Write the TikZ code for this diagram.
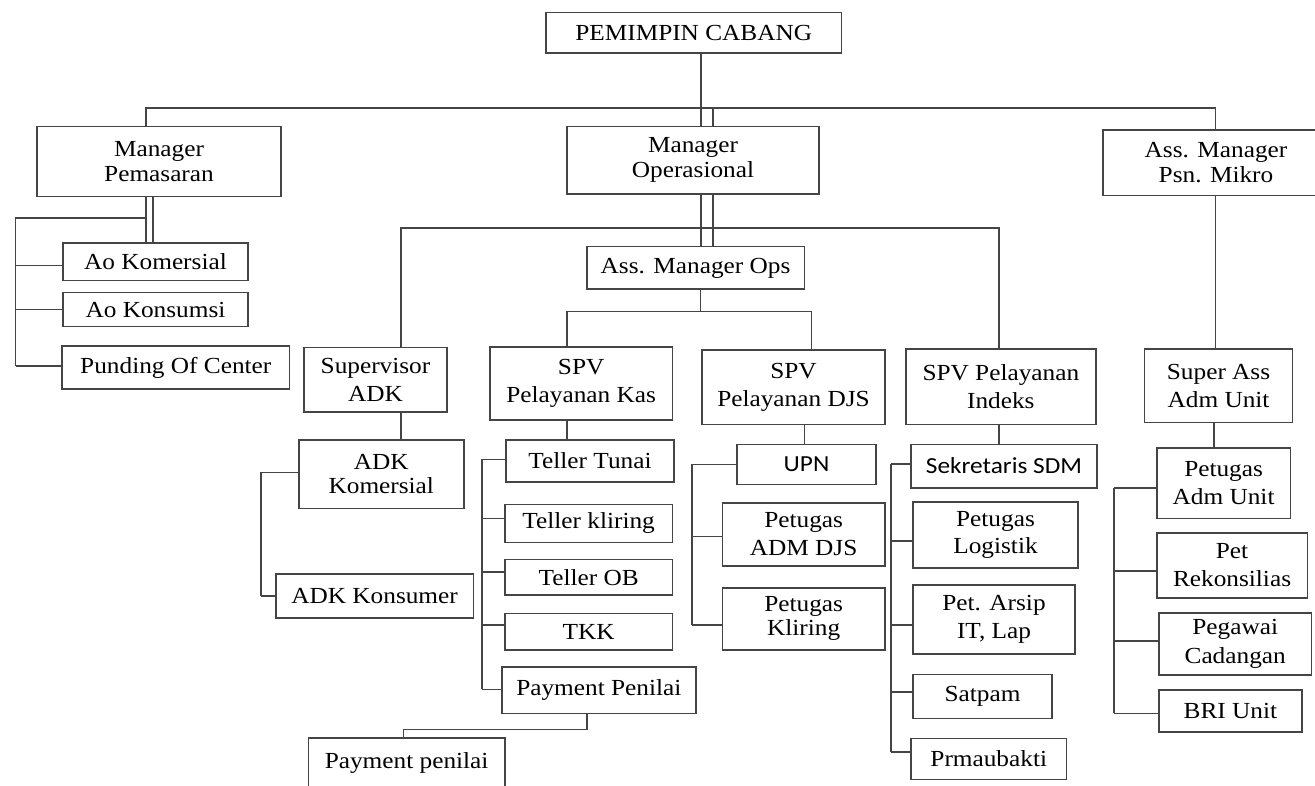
\documentclass[tikz,border=0pt]{standalone}
\usepackage{fontspec}
\setmainfont[FakeStretch=1.1]{Liberation Serif}
\newfontfamily\sansf[FakeStretch=1.1]{Carlito}
\definecolor{lc}{gray}{0.27}
\newcommand\mkbox[7][]{\node[box,#1,minimum width={#4-#3},minimum height={#6-#5}] (#2) at ({(#3+#4)/2},{(#5+#6)/2}) {#7};}
\newcommand\branch[3]{\path ([yshift=#3pt]#1.west) coordinate (#1w); \draw[ln] (#1w) -- (#1w -| #2);}
\begin{document}
\begin{tikzpicture}[x=1pt,y=-1pt,
  box/.style={draw=lc, line width=1.6pt, inner sep=0pt, outer sep=0pt, align=center, font=\fontsize{23}{28.3}\selectfont},
  top/.style={font=\fontsize{23}{25}\selectfont},
  tight/.style={font=\fontsize{23}{24}\selectfont},
  sans/.style={font=\sansf\fontsize{23}{28.3}\selectfont},
  ln/.style={draw=lc, line width=1.6pt}]
\useasboundingbox (0,0) rectangle (1315,786);
\clip (0,0) rectangle (1315,786);
% boxes
\mkbox[top]{pc}{546}{841.5}{12.7}{53.3}{PEMIMPIN CABANG}
\mkbox[top]{mp}{37}{281}{126.7}{196.7}{Manager\\Pemasaran}
\mkbox[top]{mo}{567}{819}{126.7}{194}{Manager\\Operasional}
\mkbox[top]{ampm}{1103}{1329}{130}{195.7}{Ass. Manager\\Psn. Mikro}
\mkbox{ako}{63}{248}{243}{280.7}{Ao Komersial}
\mkbox{akn}{63}{248}{292.7}{326.7}{Ao Konsumsi}
\mkbox{poc}{62}{289.6}{346}{389}{Punding Of Center}
\mkbox{amops}{586.7}{804.4}{246.7}{289.3}{Ass. Manager Ops}
\mkbox{sadk}{304}{447}{347.7}{411.7}{Supervisor\\ADK}
\mkbox{skas}{490}{672.3}{347.3}{420}{SPV\\Pelayanan Kas}
\mkbox{sdjs}{702}{885}{350}{424.3}{SPV\\Pelayanan DJS}
\mkbox{sind}{906}{1095.7}{349}{424.3}{SPV Pelayanan\\Indeks}
\mkbox{saau}{1144.5}{1292.6}{349}{422.3}{Super Ass\\Adm Unit}
\mkbox[tight]{adkk}{298.8}{463.8}{440}{508.3}{ADK\\Komersial}
\mkbox{adkn}{275.7}{473.5}{574}{617.7}{ADK Konsumer}
\mkbox{tt}{506}{674}{440}{481.7}{Teller Tunai}
\mkbox{tk}{505}{672.3}{504.3}{542.3}{Teller kliring}
\mkbox{tob}{505}{672.3}{559.3}{595}{Teller OB}
\mkbox{tkk}{505}{672.3}{613.3}{650}{TKK}
\mkbox{ppa}{501.7}{696}{666.7}{713.3}{Payment Penilai}
\mkbox{ppb}{308.3}{505}{737.7}{787.7}{Payment penilai}
\mkbox[sans]{upn}{737}{876}{444.3}{484.3}{UPN}
\mkbox{padm}{722.3}{885}{502.7}{566}{Petugas\\ADM DJS}
\mkbox[tight]{pkl}{722.3}{885}{587.7}{650}{Petugas\\Kliring}
\mkbox[sans]{ssdm}{910.9}{1097}{444.3}{487.7}{Sekretaris SDM}
\mkbox[font=\fontsize{23}{26.7}\selectfont]{plog}{913}{1078}{501.7}{567.7}{Petugas\\Logistik}
\mkbox{parsip}{913}{1075}{585}{654}{Pet. Arsip\\IT, Lap}
\mkbox{satpam}{913}{1052}{674.3}{718.3}{Satpam}
\mkbox{prm}{910.9}{1066.6}{738.3}{779.3}{Prmaubakti}
\mkbox{pau}{1156.7}{1290.5}{447.7}{518.3}{Petugas\\Adm Unit}
\mkbox{prek}{1156.7}{1307.4}{532.7}{597.7}{Pet\\Rekonsilias}
\mkbox{pcad}{1158.8}{1311.6}{612.7}{675}{Pegawai\\Cadangan}
\mkbox{bri}{1158.8}{1302}{690}{731.7}{BRI Unit}
% coordinates
\coordinate (t1) at (146,108.3);
\coordinate (t2) at (713,108.3);
\coordinate (t3) at (1215.6,108.3);
\coordinate (v1) at (701,0);
\coordinate (m1) at (146,218.3);
\coordinate (m2) at (153,0);
\coordinate (m3) at (15.6,218.3);
\coordinate (h1) at (400.7,228.3);
\coordinate (h2) at (999,228.3);
\coordinate (a1) at (700.5,311.7);
\coordinate (a2) at (567,311.7);
\coordinate (a3) at (811.6,311.7);
\coordinate (k1) at (261,0);
\coordinate (b1) at (481.7,0);
\coordinate (p1) at (586.7,729.3);
\coordinate (p2) at (403.3,729.3);
\coordinate (d1) at (804.4,0);
\coordinate (b2) at (692,0);
\coordinate (b3) at (890.7,0);
\coordinate (u1) at (1214,0);
\coordinate (b4) at (1113.8,0);
% top level
\draw[ln] (pc.south -| v1) -- (mo.north -| v1);
\draw[ln] (mp.north -| t1) -- (t1) -- (t3) -- (ampm.north -| t3);
\draw[ln] (t2) -- (mo.north -| t2);
% pemasaran
\draw[ln] (mp.south -| m1) -- (ako.north -| m1);
\draw[ln] (mp.south -| m2) -- (ako.north -| m2);
\branch{ako}{m3}{-3.85}
\branch{akn}{m3}{0}
\branch{poc}{m3}{1.5}
\draw[ln] (m1) -- (m3) -- (pocw -| m3);
% operasional
\draw[ln] (mo.south -| v1) -- (amops.north -| v1);
\draw[ln] (mo.south -| t2) -- (amops.north -| t2);
\draw[ln] (sadk.north -| h1) -- (h1) -- (h2) -- (sind.north -| h2);
\draw[ln] (amops.south -| a1) -- (a1);
\draw[ln] (skas.north -| a2) -- (a2) -- (a3) -- (sdjs.north -| a3);
% ADK
\draw[ln] (sadk.south -| h1) -- (adkk.north -| h1);
\branch{adkk}{k1}{1.85}
\branch{adkn}{k1}{0}
\draw[ln] (adkkw -| k1) -- (adknw -| k1);
% kas
\draw[ln] (skas.south -| a2) -- (tt.north -| a2);
\branch{tt}{b1}{1.5}
\branch{tk}{b1}{5}
\branch{tob}{b1}{5.45}
\branch{tkk}{b1}{6.65}
\branch{ppa}{b1}{0.7}
\draw[ln] (ttw -| b1) -- (ppaw -| b1);
\draw[ln] (ppa.south -| p1) -- (p1) -- (p2) -- (ppb.north -| p2);
% DJS
\draw[ln] (sdjs.south -| d1) -- (upn.north -| d1);
\branch{upn}{b2}{0}
\branch{padm}{b2}{-2.3}
\branch{pkl}{b2}{-6.1}
\draw[ln] (upnw -| b2) -- (pklw -| b2);
% indeks
\draw[ln] (sind.south -| h2) -- (ssdm.north -| h2);
\branch{ssdm}{b3}{2}
\branch{plog}{b3}{-6.3}
\branch{parsip}{b3}{-5.5}
\branch{satpam}{b3}{4.6}
\branch{prm}{b3}{7}
\draw[ln] (ssdmw -| b3) -- (prmw -| b3);
% mikro
\draw[ln] (ampm.south -| t3) -- (saau.north -| t3);
\draw[ln] (saau.south -| u1) -- (pau.north -| u1);
\branch{pau}{b4}{-4.7}
\branch{prek}{b4}{-5.8}
\branch{pcad}{b4}{3.15}
\branch{bri}{b4}{-2.45}
\draw[ln] (pauw -| b4) -- (briw -| b4);
\end{tikzpicture}
\end{document}
